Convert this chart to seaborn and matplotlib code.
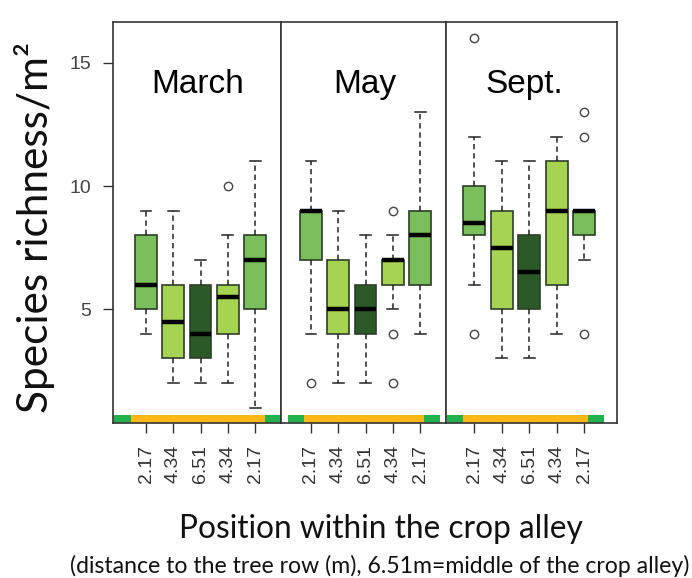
import matplotlib
matplotlib.use("Agg")
import matplotlib.pyplot as plt
import seaborn as sns
import pandas as pd

plt.rcParams["font.family"] = ["Liberation Sans", "DejaVu Sans"]

# ---------------- data ----------------
months = ["March", "May", "Sept."]
position_labels = ["2.17", "4.34", "6.51", "4.34", "2.17"]

# five-number summaries per position (whisker low, Q1, median, Q3, whisker high) + outliers
march_lo = [4, 2, 2, 2, 1]
march_q1 = [5, 3, 3, 4, 5]
march_med = [6, 4.5, 4, 5.5, 7]
march_q3 = [8, 6, 6, 6, 8]
march_hi = [9, 9, 7, 8, 11]
march_out = [[], [], [], [10], []]

may_lo = [4, 2, 2, 5, 4]
may_q1 = [7, 4, 4, 6, 6]
may_med = [9, 5, 5, 7, 8]
may_q3 = [9, 7, 6, 7, 9]
may_hi = [11, 9, 8, 8, 13]
may_out = [[2], [], [], [9, 4, 2], []]

sept_lo = [6, 3, 3, 4, 7]
sept_q1 = [8, 5, 5, 6, 8]
sept_med = [8.5, 7.5, 6.5, 9, 9]
sept_q3 = [10, 9, 8, 11, 9]
sept_hi = [12, 11, 11, 12, 9]
sept_out = [[16, 4], [], [], [], [13, 12, 4]]

box_colors = ["#7abf5c", "#a6d452", "#2b5a28", "#a6d452", "#7abf5c"]
strip_green = "#22b14c"
strip_orange = "#fbb917"


def sample_from_summary(lo, q1, med, q3, hi, outs):
    """13 observations whose linear quartiles/whiskers equal the summary."""
    low = sorted([o for o in outs if o < q1]) + [lo]
    high = [hi] + sorted([o for o in outs if o > q3])
    low = low + [lo] * (3 - len(low))
    high = high + [hi] * (3 - len(high))
    return sorted(low) + [q1, q1, med, med, med, q3, q3] + high


summaries = {
    "March": (march_lo, march_q1, march_med, march_q3, march_hi, march_out),
    "May": (may_lo, may_q1, may_med, may_q3, may_hi, may_out),
    "Sept.": (sept_lo, sept_q1, sept_med, sept_q3, sept_hi, sept_out),
}

rows = []
for m in months:
    lo, q1, med, q3, hi, out = summaries[m]
    for i in range(5):
        for v in sample_from_summary(lo[i], q1[i], med[i], q3[i], hi[i], out[i]):
            rows.append({"month": m, "pos": f"p{i}", "value": v})
df = pd.DataFrame(rows)
order = [f"p{i}" for i in range(5)]

# ---------------- figure ----------------
fig = plt.figure(figsize=(6.92, 5.78), dpi=100)
gs = fig.add_gridspec(1, 3, left=113 / 692, right=617 / 692,
                      top=1 - 22 / 578, bottom=1 - 423 / 578,
                      wspace=0, width_ratios=[168, 165, 171])
axes = [fig.add_subplot(gs[0, i]) for i in range(3)]

xlims = [(-1.21, 4.95), (-1.10, 4.95), (-1.02, 5.2)]
title_x = [0.503, 0.51, 0.456]
strips = [
    [(0.0, 0.107, strip_green), (0.107, 0.905, strip_orange), (0.905, 1.0, strip_green)],
    [(0.04, 0.138, strip_green), (0.138, 0.867, strip_orange), (0.867, 0.964, strip_green)],
    [(0.004, 0.098, strip_green), (0.098, 0.83, strip_orange), (0.83, 0.924, strip_green)],
]

for k, (ax, m) in enumerate(zip(axes, months)):
    sub = df[df["month"] == m]
    sns.boxplot(data=sub, x="pos", y="value", hue="pos", order=order,
                hue_order=order, palette=box_colors, saturation=1,
                legend=False, width=0.8, whis=1.5, ax=ax,
                boxprops=dict(edgecolor="#2c3f28", linewidth=1.2),
                medianprops=dict(color="black", linewidth=3.2),
                whiskerprops=dict(color="#222222", linewidth=1.1,
                                  linestyle=(0, (3.5, 2.5))),
                capprops=dict(color="#222222", linewidth=1.1),
                flierprops=dict(marker="o", markerfacecolor="none",
                                markeredgecolor="#444444", markersize=6,
                                markeredgewidth=1.0))
    ax.set_xlim(*xlims[k])
    ax.set_ylim(0.38, 16.66)
    for x0, x1, c in strips[k]:
        ax.axhspan(0.38, 0.72, xmin=x0, xmax=x1, color=c, lw=0, zorder=0.5)

    ax.set_xlabel("")
    ax.set_ylabel("")
    ax.tick_params(axis="x", length=7, width=1, color="#333333", pad=9,
                   labelsize=14, labelcolor="#333333", labelrotation=90)
    ax.set_xticks(range(5))
    ax.set_xticklabels(position_labels)
    for s in ax.spines.values():
        s.set_visible(True)
        s.set_color("#333333")
        s.set_linewidth(1.2)
    if k == 0:
        ax.tick_params(axis="y", length=7, width=1, color="#333333", pad=9,
                       labelsize=14, labelcolor="#444444")
        ax.set_yticks([5, 10, 15])
        ax.set_yticklabels(["5", "10", "15"])
    else:
        ax.set_yticks([])
    ax.text(title_x[k], 0.823, m, transform=ax.transAxes, ha="center",
            va="baseline", fontsize=24)

fig.text(35 / 692, 1 - 227 / 578, "Species richness/m²", rotation=90,
         ha="center", va="center", fontsize=30.5, family="Lato", color="#111111")
fig.text(381 / 692, 1 - 538 / 578, "Position within the crop alley",
         ha="center", va="baseline", fontsize=22.8, family="Lato", color="#111111")
fig.text(380 / 692, 1 - 573 / 578,
         "(distance to the tree row (m), 6.51m=middle of the crop alley)",
         ha="center", va="baseline", fontsize=16.6, family="Lato", color="#111111")

fig.savefig("out.png", dpi=100)
